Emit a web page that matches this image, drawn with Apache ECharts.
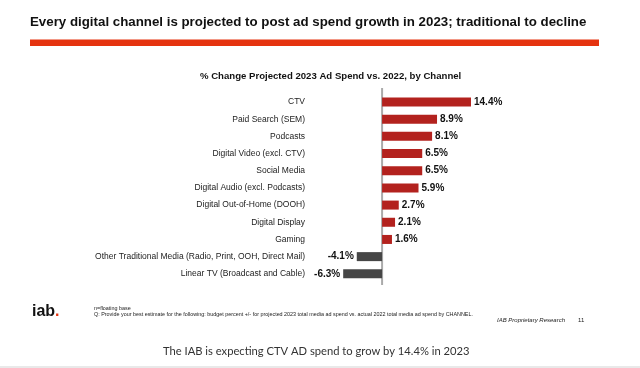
<!DOCTYPE html>
<html>
<head>
<meta charset="utf-8">
<script src="https://cdn.jsdelivr.net/npm/echarts@6/dist/echarts.min.js"></script>
<style>
html,body{margin:0;padding:0;background:#fff;}
#c{width:640px;height:368px;}
</style>
</head>
<body>
<div id="c"></div>
<script>
const categories = [
  'CTV',
  'Paid Search (SEM)',
  'Podcasts',
  'Digital Video (excl. CTV)',
  'Social Media',
  'Digital Audio (excl. Podcasts)',
  'Digital Out-of-Home (DOOH)',
  'Digital Display',
  'Gaming',
  'Other Traditional Media (Radio, Print, OOH, Direct Mail)',
  'Linear TV (Broadcast and Cable)'
];
const values = [14.4, 8.9, 8.1, 6.5, 6.5, 5.9, 2.7, 2.1, 1.6, -4.1, -6.3];

const RED = '#b3221e';
const GRAY = '#464646';
const FONT = 'Liberation Sans, Arial, sans-serif';

const chart = echarts.init(document.getElementById('c'), null, {renderer: 'canvas'});

const seriesData = values.map(v => ({
  value: v,
  itemStyle: {color: v >= 0 ? RED : GRAY},
  label: {position: v >= 0 ? 'right' : 'left'}
}));

const staticGraphics = [
  {type: 'text', x: 30, y: 16, style: {
    text: 'Every digital channel is projected to post ad spend growth in 2023; traditional to decline',
    fontSize: 13.3, fontWeight: 'bold', fill: '#111', fontFamily: FONT
  }},
  {type: 'rect', shape: {x: 30, y: 39.5, width: 569, height: 6.5}, style: {fill: '#e5330f'}},
  {type: 'text', left: 200, top: 71, style: {
    text: '% Change Projected 2023 Ad Spend vs. 2022, by Channel',
    fontSize: 9.6, fontWeight: 'bold', fill: '#111', fontFamily: FONT
  }},
  {type: 'text', left: 32, top: 304, style: {
    text: '{a|iab}{b|.}',
    rich: {
      a: {fontSize: 16, fontWeight: 'bold', fill: '#111', fontFamily: FONT},
      b: {fontSize: 16, fontWeight: 'bold', fill: '#e5330f', fontFamily: FONT}
    }
  }},
  {type: 'text', left: 94, top: 306, style: {
    text: 'n=floating base\nQ: Provide your best estimate for the following: budget percent +/- for projected 2023 total media ad spend vs. actual 2022 total media ad spend by CHANNEL.',
    fontSize: 5.4, lineHeight: 6, fill: '#222', fontFamily: FONT
  }},
  {type: 'text', left: 497, top: 317, style: {
    text: 'IAB Proprietary Research',
    fontSize: 6, fontStyle: 'italic', fill: '#222', fontFamily: FONT
  }},
  {type: 'text', left: 578, top: 317, style: {
    text: '11', fontSize: 6, fill: '#222', fontFamily: FONT
  }},
  {type: 'text', left: 163, top: 346, style: {
    text: 'The IAB is expecting CTV AD spend to grow by 14.4% in 2023',
    fontSize: 11.2, fill: '#333', fontFamily: 'Lato, Open Sans, sans-serif'
  }},
  {type: 'rect', shape: {x: 0, y: 366, width: 640, height: 2}, style: {fill: '#e9e9e9'}}
];

chart.setOption({
  animation: false,
  backgroundColor: '#fff',
  grid: {left: 308, top: 93.4, width: 259.3, height: 189, containLabel: false},
  xAxis: {
    type: 'value', min: -12, max: 30, interval: 6,
    show: false
  },
  yAxis: {
    type: 'category', data: categories, inverse: true,
    axisLine: {show: false}, axisTick: {show: false}, splitLine: {show: false},
    axisLabel: {margin: 3, fontSize: 8.5, color: '#222', fontFamily: FONT}
  },
  series: [{
    type: 'bar',
    data: seriesData,
    barWidth: 9,
    z: 3,
    label: {
      show: true, distance: 3,
      formatter: p => p.value.toFixed(1) + '%',
      fontSize: 10, fontWeight: 'bold', color: '#111', fontFamily: FONT
    }
  }],
  graphic: staticGraphics
});

// zero axis line, placed through the value scale
const zx = chart.convertToPixel({xAxisIndex: 0}, 0);
chart.setOption({
  graphic: staticGraphics.concat([{
    type: 'line', z: 1,
    shape: {x1: zx, y1: 88, x2: zx, y2: 285},
    style: {stroke: '#aaaaaa', lineWidth: 2}
  }])
});
</script>
</body>
</html>
